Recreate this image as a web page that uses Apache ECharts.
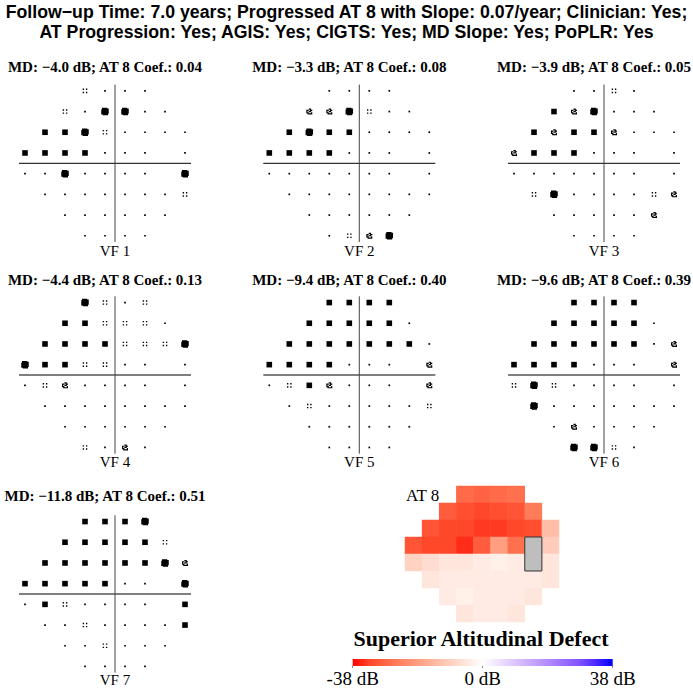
<!DOCTYPE html>
<html><head><meta charset="utf-8">
<script src="https://cdn.jsdelivr.net/npm/echarts@6/dist/echarts.min.js"></script>
<style>html,body{margin:0;padding:0;background:#fff}#c{width:693px;height:688px}</style>
</head><body><div id="c"></div>
<script>
// ---------- data ----------
const titleLines = [
  'Follow\u2212up Time: 7.0 years; Progressed AT 8 with Slope: 0.07/year; Clinician: Yes;',
  'AT Progression: Yes; AGIS: Yes; CIGTS: Yes; MD Slope: Yes; PoPLR: Yes'
];
// 24-2 test locations (degrees), blind spot excluded
const locX = [
  -9,-3,3,9,
  -15,-9,-3,3,9,15,
  -21,-15,-9,-3,3,9,15,21,
  -27,-21,-15,-9,-3,3,9,21,
  -27,-21,-15,-9,-3,3,9,21,
  -21,-15,-9,-3,3,9,15,21,
  -15,-9,-3,3,9,15,
  -9,-3,3,9
];
const locY = [
  21,21,21,21,
  15,15,15,15,15,15,
  9,9,9,9,9,9,9,9,
  3,3,3,3,3,3,3,3,
  -3,-3,-3,-3,-3,-3,-3,-3,
  -9,-9,-9,-9,-9,-9,-9,-9,
  -15,-15,-15,-15,-15,-15,
  -21,-21,-21,-21
];
const blindX = [15, 15];
const blindY = [3, -3];
const vfLabels = ['VF 1','VF 2','VF 3','VF 4','VF 5','VF 6','VF 7'];
const vfMD = [-4.0, -3.3, -3.9, -4.4, -9.4, -9.6, -11.8];
const vfCoef = [0.04, 0.08, 0.05, 0.13, 0.40, 0.39, 0.51];
// pattern deviation probability level: 0 normal, 1 p<5%, 2 p<2%, 3 p<1%, 4 p<0.5%
const vf1 = [1,0,0,0, 1,0,3,3,0,0, 4,4,3,1,0,0,0,0, 4,4,4,4,0,0,0,0, 0,0,3,0,0,0,0,3, 0,0,0,0,0,0,0,1, 0,0,0,0,0,0, 0,0,0,0];
const vf2 = [0,0,0,0, 2,2,3,1,0,0, 4,3,4,4,0,0,0,0, 4,4,4,4,0,0,0,0, 0,0,0,0,0,0,0,0, 0,0,0,0,0,0,0,0, 0,0,0,0,0,0, 0,1,2,3];
const vf3 = [0,0,1,0, 4,2,3,0,0,0, 4,2,4,4,2,0,0,0, 2,4,4,4,0,0,0,0, 0,0,0,0,0,0,0,0, 1,3,0,0,0,0,1,2, 0,0,0,0,0,2, 0,0,0,0];
const vf4 = [3,1,0,1, 4,4,1,1,1,0, 4,4,4,4,1,1,1,3, 3,4,4,1,1,0,0,0, 0,1,2,0,0,0,0,0, 0,0,0,0,0,0,0,0, 0,0,0,0,0,0, 1,0,2,0];
const vf5 = [4,4,4,4, 4,4,4,4,4,0, 4,4,4,4,4,4,4,0, 4,4,4,4,0,0,0,2, 0,1,4,2,0,0,0,2, 0,1,0,0,0,0,0,1, 0,0,0,0,0,0, 0,0,0,0];
const vf6 = [4,4,4,4, 4,4,4,4,4,0, 4,4,4,4,4,4,0,2, 4,4,4,4,0,0,0,2, 1,3,1,0,0,0,0,0, 3,0,0,0,0,0,0,0, 0,2,0,0,0,0, 3,3,1,0];
const vf7 = [4,4,4,3, 4,4,4,4,4,1, 4,4,4,4,4,4,3,2, 4,4,4,4,4,0,0,3, 0,4,1,0,0,0,0,4, 0,0,1,0,0,0,0,4, 0,0,1,0,0,0, 0,0,0,0];
const vfLevels = [vf1, vf2, vf3, vf4, vf5, vf6, vf7];
// archetype AT 8 values (dB)
const at8 = [
  -28,-29,-28,-27,
  -30,-32,-33,-32,-31,-25,
  -31,-33,-33,-34,-34,-33,-32,-13,
  -31,-33,-33,-35,-30,-19,-27,-10,
  -9,-7,-5,-5,-4,-3,-4,-5,
  -5,-4,-4,-4,-4,-4,-4,-5,
  -4,-3,-4,-4,-4,-5,
  -5,-4,-4,-5
];
const heatX = [-27,-21,-15,-9,-3,3,9,15,21];
const heatY = [-21,-15,-9,-3,3,9,15,21];
const archLabel = 'AT 8';
const archName = 'Superior Altitudinal Defect';
const cbMin = -38, cbMax = 38;
// red - white - blue ramp (evenly spaced from cbMin to cbMax)
const cbColors = ['#ff0000','#ff4528','#ff6746','#ff8463','#ff9e81','#ffb7a0','#ffcfbf','#ffe7de','#ffffff',
                  '#eee2ff','#dcc5ff','#c8a8ff','#b38bff','#996eff','#7e51ff','#4826ff','#0000ff'];

// ---------- styling ----------
const SERIF = '"Liberation Serif","Times New Roman",serif';
const SYM = [
  'rect',
  'path://M0,0h3v3h-3z M7,0h3v3h-3z M0,7h3v3h-3z M7,7h3v3h-3z',
  'path://M4,0h4v2h-4z M0,2h4v2h-4z M6,2h4v2h-4z M0,4h2v2h-2z M4,4h4v2h-4z M0,6h4v2h-4z M8,6h2v2h-2z M2,8h8v2h-8z',
  'path://M1,0H8V1H10V8H9V10H2V9H0V2H1Z',
  'rect'
];
const SYMSIZE = [1.7, 4.6, 6, 7.5, 5.6];

const panelCX = [115, 359.3, 604, 115, 359.3, 604, 115];
const panelCY = [163.3, 163.3, 163.3, 375, 375, 375, 594];
const titleY = [66.7, 66.7, 66.7, 280, 280, 280, 495.7];
const labelY = [250.7, 250.7, 250.7, 462, 462, 462, 680];
const pxX = 20 / 6, pxY = 20.7 / 6;
const XMIN = -30, XMAX = 24, YMIN = -27, YMAX = 27;
const lineH = [-28.8, 22.8], lineV = [-22.8, 22.8];

const grids = [], xAxes = [], yAxes = [], series = [], graphics = [];
vfLevels.forEach((lv, k) => {
  const cx = panelCX[k], cy = panelCY[k];
  grids.push({left: cx + XMIN * pxX, top: cy - YMAX * pxY, width: (XMAX - XMIN) * pxX, height: (YMAX - YMIN) * pxY});
  xAxes.push({type: 'value', gridIndex: k, min: XMIN, max: XMAX, show: false});
  yAxes.push({type: 'value', gridIndex: k, min: YMIN, max: YMAX, show: false});
  series.push({type: 'line', xAxisIndex: k, yAxisIndex: k, data: [[lineH[0], 0], [lineH[1], 0]], showSymbol: false, symbol: 'none', lineStyle: {color: '#000', width: 1}, silent: true, z: 1});
  series.push({type: 'line', xAxisIndex: k, yAxisIndex: k, data: [[0, lineV[0]], [0, lineV[1]]], showSymbol: false, symbol: 'none', lineStyle: {color: '#444', width: 1}, silent: true, z: 1});
  series.push({
    type: 'scatter', xAxisIndex: k, yAxisIndex: k, silent: true, z: 3,
    data: lv.map((v, i) => [locX[i], locY[i], v]),
    symbol: (val) => SYM[val[2]],
    symbolSize: (val) => SYMSIZE[val[2]],
    itemStyle: {color: '#000', opacity: 1}
  });
  const md = vfMD[k].toFixed(1).replace('-', '\u2212');
  graphics.push({type: 'text', x: cx - 10, y: titleY[k], silent: true,
    style: {text: 'MD: ' + md + ' dB; AT 8 Coef.: ' + vfCoef[k].toFixed(2), font: 'bold 15px ' + SERIF, fill: '#000', align: 'center', verticalAlign: 'middle', textAlign: 'center', textVerticalAlign: 'middle'}});
  graphics.push({type: 'text', x: cx, y: labelY[k], silent: true,
    style: {text: vfLabels[k], font: '15px ' + SERIF, fill: '#000', align: 'center', verticalAlign: 'middle', textAlign: 'center', textVerticalAlign: 'middle'}});
});

// heatmap grid
const hk = grids.length;
grids.push({left: 405, top: 486, width: 154, height: 136});
xAxes.push({type: 'category', gridIndex: hk, data: heatX.map(String), show: false});
yAxes.push({type: 'category', gridIndex: hk, data: heatY.map(String), show: false});
const heatSeriesIndex = series.length;
series.push({
  type: 'heatmap', xAxisIndex: hk, yAxisIndex: hk, silent: true,
  data: at8.map((v, i) => [heatX.indexOf(locX[i]), heatY.indexOf(locY[i]), v]),
  itemStyle: {borderWidth: 0}
});
series.push({
  type: 'custom', xAxisIndex: hk, yAxisIndex: hk, silent: true, z: 5,
  data: [[heatX.indexOf(blindX[0]), heatY.indexOf(blindY[0]), heatY.indexOf(blindY[1])]],
  encode: {x: 0, y: 1},
  renderItem: (params, api) => {
    const p1 = api.coord([api.value(0), api.value(1)]);
    const p2 = api.coord([api.value(0), api.value(2)]);
    const s = api.size([1, 1]);
    return {type: 'rect', shape: {x: p1[0] - s[0] / 2, y: p1[1] - s[1] / 2, width: s[0], height: p2[1] - p1[1] + s[1]},
      style: {fill: '#bebebe', stroke: '#333', lineWidth: 1}};
  }
});
graphics.push({type: 'text', x: 406, y: 495, silent: true,
  style: {text: archLabel, font: '17px ' + SERIF, fill: '#000', align: 'left', verticalAlign: 'middle', textAlign: 'left', textVerticalAlign: 'middle'}});
graphics.push({type: 'text', x: 481, y: 638, silent: true,
  style: {text: archName, font: 'bold 22px ' + SERIF, fill: '#000', align: 'center', verticalAlign: 'middle', textAlign: 'center', textVerticalAlign: 'middle'}});

// colour bar grid
const ck = grids.length;
grids.push({left: 352.7, top: 659, width: 260, height: 9});
xAxes.push({type: 'value', gridIndex: ck, min: cbMin, max: cbMax, interval: cbMax, splitLine: {show: false},
  axisLine: {show: false}, axisTick: {show: true, length: 2, lineStyle: {color: '#888'}},
  axisLabel: {formatter: '{value} dB', fontFamily: SERIF, fontSize: 19, color: '#000', margin: 3, showMinLabel: true, showMaxLabel: true}});
yAxes.push({type: 'value', gridIndex: ck, min: 0, max: 1, show: false});
series.push({
  type: 'custom', xAxisIndex: ck, yAxisIndex: ck, silent: true,
  data: [[cbMin, cbMax]],
  encode: {x: [0, 1]},
  renderItem: (params, api) => {
    const a = api.coord([api.value(0), 1]);
    const b = api.coord([api.value(1), 0]);
    return {type: 'rect', shape: {x: a[0], y: a[1], width: b[0] - a[0], height: b[1] - a[1]},
      style: {fill: {type: 'linear', x: 0, y: 0, x2: 1, y2: 0, colorStops: cbColors.map((c, i) => ({offset: i / (cbColors.length - 1), color: c}))}}};
  }
});

// main title (condensed bold sans: Liberation Sans Bold squeezed horizontally)
const TFONT = 'bold 19px "Liberation Sans",Arial,sans-serif';
const mctx = document.createElement('canvas').getContext('2d');
mctx.font = TFONT;
const tScale = 683 / mctx.measureText(titleLines[0]).width;
titleLines.forEach((t, i) => {
  graphics.push({type: 'text', x: 346.5, y: 11.5 + i * 20, scaleX: tScale, scaleY: 1, silent: true,
    style: {text: t, font: TFONT, fill: '#000', align: 'center', verticalAlign: 'middle', textAlign: 'center', textVerticalAlign: 'middle'}});
});

const chart = echarts.init(document.getElementById('c'), null, {renderer: 'svg'});
chart.setOption({
  animation: false,
  backgroundColor: '#fff',
  grid: grids, xAxis: xAxes, yAxis: yAxes, series: series,
  visualMap: [{type: 'continuous', show: false, min: cbMin, max: cbMax, dimension: 2, seriesIndex: heatSeriesIndex, inRange: {color: cbColors}}],
  graphic: {elements: graphics}
});
</script></body></html>
